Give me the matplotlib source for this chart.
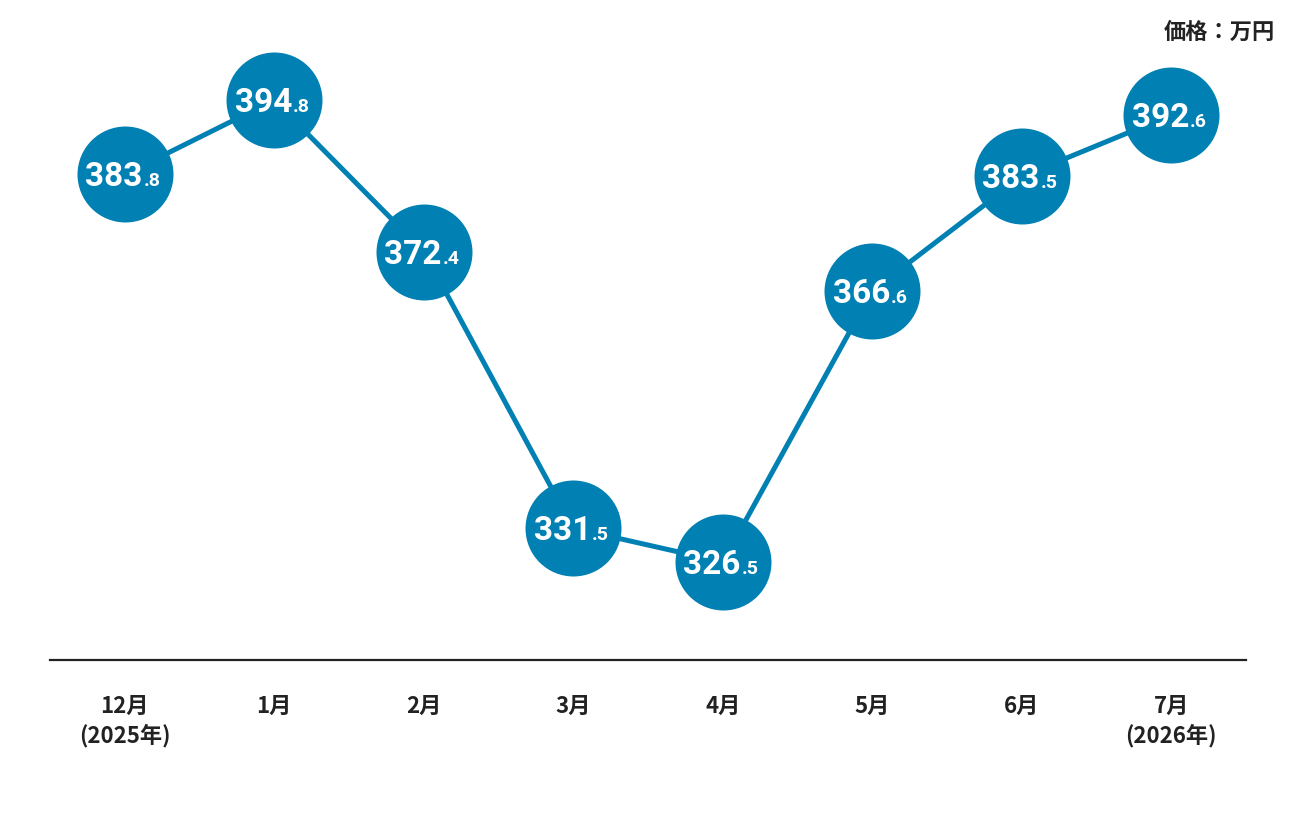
import matplotlib
matplotlib.use("Agg")
import matplotlib.pyplot as plt

# data
months = ["12月\n(2025年)", "1月", "2月", "3月", "4月", "5月", "6月", "7月\n(2026年)"]
prices = [383.8, 394.8, 372.4, 331.5, 326.5, 366.6, 383.5, 392.6]
unit_label = "価格：万円"

blue = "#0080b3"
cjk = ["Noto Sans CJK JP", "DejaVu Sans"]

fig = plt.figure(figsize=(12.96, 8.16), dpi=100)
ax = fig.add_axes([50 / 1296, 156 / 816, 1196 / 1296, 660 / 816])

x = list(range(len(prices)))
ax.plot(x, prices, color=blue, lw=3.6, zorder=1)
ax.scatter(x, prices, s=4776, color=blue, zorder=2, linewidths=0)

# value labels: big integer part, small decimal part
for xi, p in zip(x, prices):
    whole, dec = f"{p:.1f}".split(".")
    ax.annotate(whole, (xi, p), xytext=(13, -8.6), textcoords="offset points",
                ha="right", va="baseline", color="white", fontsize=24,
                fontweight="bold", family="Roboto", zorder=3)
    ax.annotate("." + dec, (xi, p), xytext=(13.5, -8.6), textcoords="offset points",
                ha="left", va="baseline", color="white", fontsize=14,
                fontweight="bold", family="Roboto", zorder=3)

ax.set_xlim(-0.5, 7.5)
ax.set_ylim(312, 409.6)

for side in ["top", "right", "left"]:
    ax.spines[side].set_visible(False)
ax.spines["bottom"].set_linewidth(1.6)
ax.spines["bottom"].set_color("#222222")
ax.set_yticks([])
ax.set_xticks(x)
ax.set_xticklabels(months, family=cjk, fontsize=16, fontweight="bold",
                   color="#222222", linespacing=1.3)
ax.tick_params(axis="x", length=0, pad=25)

fig.text(1275 / 1296, 1 - 32 / 816, unit_label, ha="right", va="center",
         family=cjk, fontsize=16, fontweight="bold", color="#222222")

fig.savefig("out.png", dpi=100)
